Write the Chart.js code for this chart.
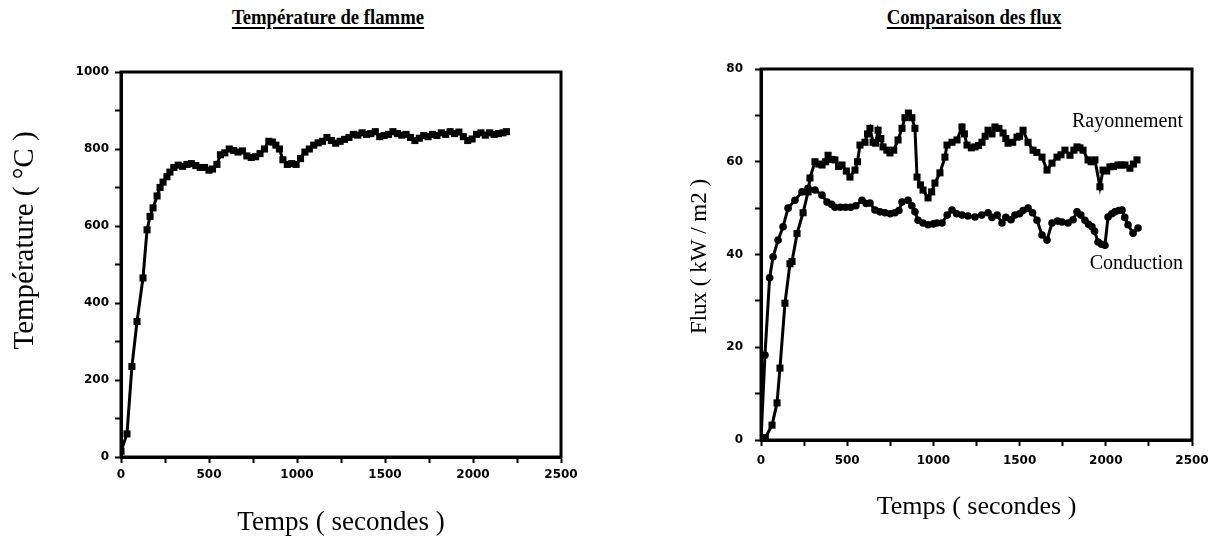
<!DOCTYPE html>
<html>
<head>
<meta charset="utf-8">
<script src="https://cdn.jsdelivr.net/npm/chart.js@4.4.1/dist/chart.umd.min.js"></script>
<style>
    body { margin: 0; background: #fff; width: 1219px; height: 541px; position: relative; overflow: hidden; }
    canvas { position: absolute; top: 0; }
    #flammeCanvas { left: 0; }
    #fluxCanvas { left: 610px; }
    .titre {
        position: absolute; top: 4px; font-family: "Liberation Serif", serif; font-weight: bold; font-size: 22px;
        line-height: 26px; color: #000; text-decoration: underline; text-decoration-thickness: 2px;
        text-underline-offset: 3px; white-space: nowrap; transform: translateX(-50%) scaleX(0.85);
    }
</style>
</head>
<body>
<div class="titre" style="left:328px">Température de flamme</div>
<div class="titre" style="left:974px">Comparaison des flux</div>
<canvas id="flammeCanvas" width="610" height="541"></canvas>
<canvas id="fluxCanvas" width="609" height="541"></canvas>
<script>
// temperature de flamme (s, °C)
var tempTimes = [0, 34, 62, 91, 125, 148, 165, 182, 205, 222, 239, 261, 278, 300, 325, 350, 375, 400, 425, 450,
    475, 500, 520, 545, 565, 590, 615, 640, 665, 690, 715, 740, 765, 790, 815, 840, 860, 880, 900, 920,
    945, 970, 995, 1020, 1045, 1070, 1095, 1120, 1145, 1170, 1195, 1220, 1245, 1270, 1295, 1320, 1345, 1370, 1395, 1420,
    1445, 1470, 1495, 1520, 1545, 1570, 1595, 1620, 1645, 1670, 1695, 1720, 1745, 1770, 1795, 1820, 1845, 1870, 1895, 1920,
    1945, 1970, 1995, 2020, 2045, 2070, 2095, 2120, 2145, 2170, 2190];
var tempValues = [15, 60, 235, 352, 465, 590, 625, 647, 678, 700, 714, 728, 740, 752, 758, 755, 760, 762, 757, 752,
    752, 745, 748, 760, 785, 790, 800, 796, 792, 795, 782, 778, 780, 788, 800, 820, 818, 810, 800, 772,
    760, 762, 760, 775, 792, 800, 810, 816, 820, 830, 822, 815, 820, 825, 830, 838, 836, 842, 838, 840,
    845, 832, 835, 838, 845, 840, 836, 838, 830, 822, 828, 835, 832, 838, 835, 842, 838, 845, 840, 844,
    832, 822, 826, 838, 842, 836, 842, 838, 840, 842, 845];

// flux rayonnement (s, kW/m2)
var rayTimes = [0, 25, 64, 93, 110, 139, 168, 180, 209, 244, 273, 284, 313, 335, 354, 375, 389, 410, 429, 450,
    470, 495, 516, 545, 560, 574, 603, 618, 632, 650, 665, 679, 695, 708, 730, 748, 770, 795, 818, 835,
    855, 875, 893, 905, 925, 940, 969, 990, 1009, 1038, 1067, 1079, 1108, 1137, 1166, 1180, 1195, 1220, 1241, 1262,
    1282, 1300, 1317, 1340, 1357, 1380, 1404, 1420, 1433, 1460, 1485, 1500, 1520, 1549, 1578, 1600, 1630, 1659, 1688, 1717,
    1740, 1763, 1792, 1815, 1833, 1850, 1868, 1897, 1915, 1937, 1966, 1984, 2005, 2024, 2045, 2071, 2090, 2111, 2140, 2160,
    2181];
var rayValues = [0, 0.5, 3.2, 8, 15.5, 29.5, 38, 38.5, 44.5, 49, 53.5, 56.5, 60, 59.5, 59.3, 60, 61.4, 60.5, 60.4, 59,
    59.3, 58, 56.7, 58.2, 60, 63.6, 64.2, 66, 67.2, 64.2, 64, 66.8, 65, 63.2, 62.5, 61.9, 62.5, 64.7, 67.2, 69.5,
    70.5, 69.5, 67.2, 56.7, 55, 53.9, 52.2, 53.5, 55.4, 57.6, 61, 63.6, 64.2, 64.7, 67.5, 66, 63.6, 63, 63.2, 63.5,
    64.2, 65.5, 66.8, 66, 67.5, 67.2, 66.2, 65, 64, 64.2, 65.3, 65.5, 66.8, 64.2, 62.5, 62, 61, 58.2, 59.7, 61,
    61.5, 62.5, 61.4, 62.5, 63.2, 63, 62.5, 60.4, 60, 60.4, 54.6, 58.2, 58, 58.9, 59, 59.3, 59.3, 59.3, 58.6, 59.5,
    60.4];

// flux conduction (s, kW/m2)
var condTimes = [0, 23, 50, 70, 99, 128, 157, 197, 238, 273, 313, 354, 383, 410, 429, 460, 490, 520, 550, 586,
    610, 632, 661, 690, 719, 750, 777, 800, 818, 853, 875, 893, 911, 940, 969, 1000, 1020, 1050, 1080, 1108,
    1135, 1166, 1200, 1241, 1280, 1317, 1340, 1370, 1398, 1420, 1450, 1473, 1500, 1520, 1549, 1575, 1601, 1630, 1659, 1688,
    1720, 1746, 1781, 1810, 1833, 1855, 1879, 1900, 1920, 1935, 1955, 1975, 1995, 2013, 2035, 2053, 2075, 2094, 2110, 2129,
    2158, 2187];
var condValues = [0, 18.3, 35, 39.5, 43.1, 46, 50, 51.7, 53.5, 54.3, 53.9, 52.8, 51.3, 50.8, 50.2, 50.2, 50.2, 50.2, 50.5, 51.7,
    51, 51.1, 49.6, 49.2, 49, 48.8, 49, 49.5, 51.3, 51.7, 50.5, 49.2, 47.4, 46.8, 46.4, 46.6, 46.8, 46.8, 48.5, 49.6,
    48.8, 48.5, 48.3, 48.1, 48.5, 49, 48, 48.5, 46.8, 48, 47.5, 48.5, 48.8, 49.5, 50, 49, 47.4, 44.2, 43.1, 46.8,
    47.2, 47, 46.8, 47.5, 49.2, 48.5, 47.4, 46.5, 46, 45, 42.7, 42.2, 42, 48.1, 48.8, 49.2, 49.5, 49.6, 48, 46.4,
    44.6, 45.7];

var timeTicks = [0, 500, 1000, 1500, 2000, 2500];

// labels written beside the curves: [text, time, flux]
var seriesLabels = [
    ['Rayonnement', 2448, 68.6],
    ['Conduction', 2448, 38]
];

Chart.defaults.animation = false;
Chart.defaults.color = '#000';

function toPoints(xs, ys) {
    var pts = [];
    for (var i = 0; i < xs.length; i++) {
        pts.push({ x: xs[i], y: ys[i] });
    }
    return pts;
}

// closes the box around the plot area
var framePlugin = {
    id: 'frame',
    afterDraw: function (chart) {
        var a = chart.chartArea;
        var ctx = chart.ctx;
        ctx.save();
        ctx.strokeStyle = '#000';
        ctx.lineWidth = 3;
        ctx.strokeRect(a.left, a.top, a.right - a.left, a.bottom - a.top);
        ctx.restore();
    }
};

var curveLabelPlugin = {
    id: 'curveLabels',
    afterDatasetsDraw: function (chart, args, opts) {
        if (!opts.items) return;
        var ctx = chart.ctx;
        ctx.save();
        ctx.font = '20px "Liberation Serif"';
        ctx.fillStyle = '#000';
        ctx.textAlign = 'right';
        ctx.textBaseline = 'middle';
        opts.items.forEach(function (item) {
            ctx.fillText(item[0], chart.scales.x.getPixelForValue(item[1]), chart.scales.y.getPixelForValue(item[2]));
        });
        ctx.restore();
    }
};

// vertical axis title, set a bit above the middle of the axis
var sideTitlePlugin = {
    id: 'sideTitle',
    afterDraw: function (chart, args, opts) {
        if (!opts.text) return;
        var a = chart.chartArea;
        var ctx = chart.ctx;
        ctx.save();
        ctx.translate(opts.x, (a.top + a.bottom) / 2 + opts.shift);
        ctx.rotate(-Math.PI / 2);
        ctx.font = opts.size + 'px "Liberation Serif"';
        ctx.fillStyle = '#000';
        ctx.textAlign = 'center';
        ctx.textBaseline = 'middle';
        ctx.fillText(opts.text, 0, 0);
        ctx.restore();
    }
};

var tickFont = { family: 'DejaVu Sans', weight: 'bold', size: 12 };

function lineDataset(label, pts, style, radius) {
    return {
        label: label,
        data: pts,
        borderColor: '#000',
        backgroundColor: '#000',
        borderWidth: 3,
        pointStyle: style,
        pointRadius: radius,
        pointBorderWidth: 0,
        tension: 0
    };
}

function timeAxis(titleSize, titlePad, labelPad, height) {
    return {
        type: 'linear',
        min: 0,
        max: 2500,
        afterBuildTicks: function (scale) {
            var t = [];
            for (var v = 0; v <= 2500; v += 250) t.push({ value: v });
            scale.ticks = t;
        },
        afterFit: function (scale) { scale.height = height; },
        ticks: {
            font: tickFont,
            padding: labelPad,
            maxRotation: 0,
            autoSkip: false,
            callback: function (v) { return timeTicks.indexOf(v) >= 0 ? String(v) : ''; }
        },
        grid: { drawOnChartArea: false, drawTicks: true, tickLength: 6, tickColor: '#000', tickWidth: 2 },
        border: { display: true, color: '#000', width: 3 },
        title: {
            display: true,
            text: 'Temps ( secondes )',
            font: { family: 'Liberation Serif', size: titleSize },
            padding: { top: 0, bottom: titlePad }
        }
    };
}

function valueAxis(max, step, labelStep, labelPad, width) {
    return {
        type: 'linear',
        min: 0,
        max: max,
        afterBuildTicks: function (scale) {
            var t = [];
            for (var v = 0; v <= max; v += step) t.push({ value: v });
            scale.ticks = t;
        },
        afterFit: function (scale) { scale.width = width; },
        ticks: {
            font: tickFont,
            padding: labelPad,
            autoSkip: false,
            callback: function (v) { return v % labelStep === 0 ? String(v) : ''; }
        },
        grid: { drawOnChartArea: false, drawTicks: true, tickLength: 6, tickColor: '#000', tickWidth: 2 },
        border: { display: true, color: '#000', width: 3 }
    };
}

new Chart('flammeCanvas', {
    type: 'line',
    data: {
        datasets: [lineDataset('Température', toPoints(tempTimes, tempValues), 'rect', 5)]
    },
    options: {
        responsive: false,
        layout: { padding: { left: 0, top: 72, right: 49, bottom: 0 } },
        scales: {
            x: timeAxis(27, 2, 5, 84),
            y: valueAxis(1000, 100, 200, 6, 121)
        },
        plugins: {
            legend: { display: false },
            tooltip: { enabled: false },
            sideTitle: { text: 'Température ( °C )', size: 29, x: 25, shift: -24 }
        }
    },
    plugins: [framePlugin, sideTitlePlugin]
});

new Chart('fluxCanvas', {
    type: 'line',
    data: {
        datasets: [
            lineDataset('Rayonnement', toPoints(rayTimes, rayValues), 'rect', 5),
            lineDataset('Conduction', toPoints(condTimes, condValues), 'circle', 3.8)
        ]
    },
    options: {
        responsive: false,
        layout: { padding: { left: 0, top: 69, right: 27, bottom: 0 } },
        scales: {
            x: timeAxis(26, 18, 8, 101),
            y: valueAxis(80, 10, 20, 12, 151)
        },
        plugins: {
            legend: { display: false },
            tooltip: { enabled: false },
            curveLabels: { items: seriesLabels },
            sideTitle: { text: 'Flux ( kW / m2 )', size: 23, x: 90, shift: 2 }
        }
    },
    plugins: [framePlugin, curveLabelPlugin, sideTitlePlugin]
});
</script>
</body>
</html>
